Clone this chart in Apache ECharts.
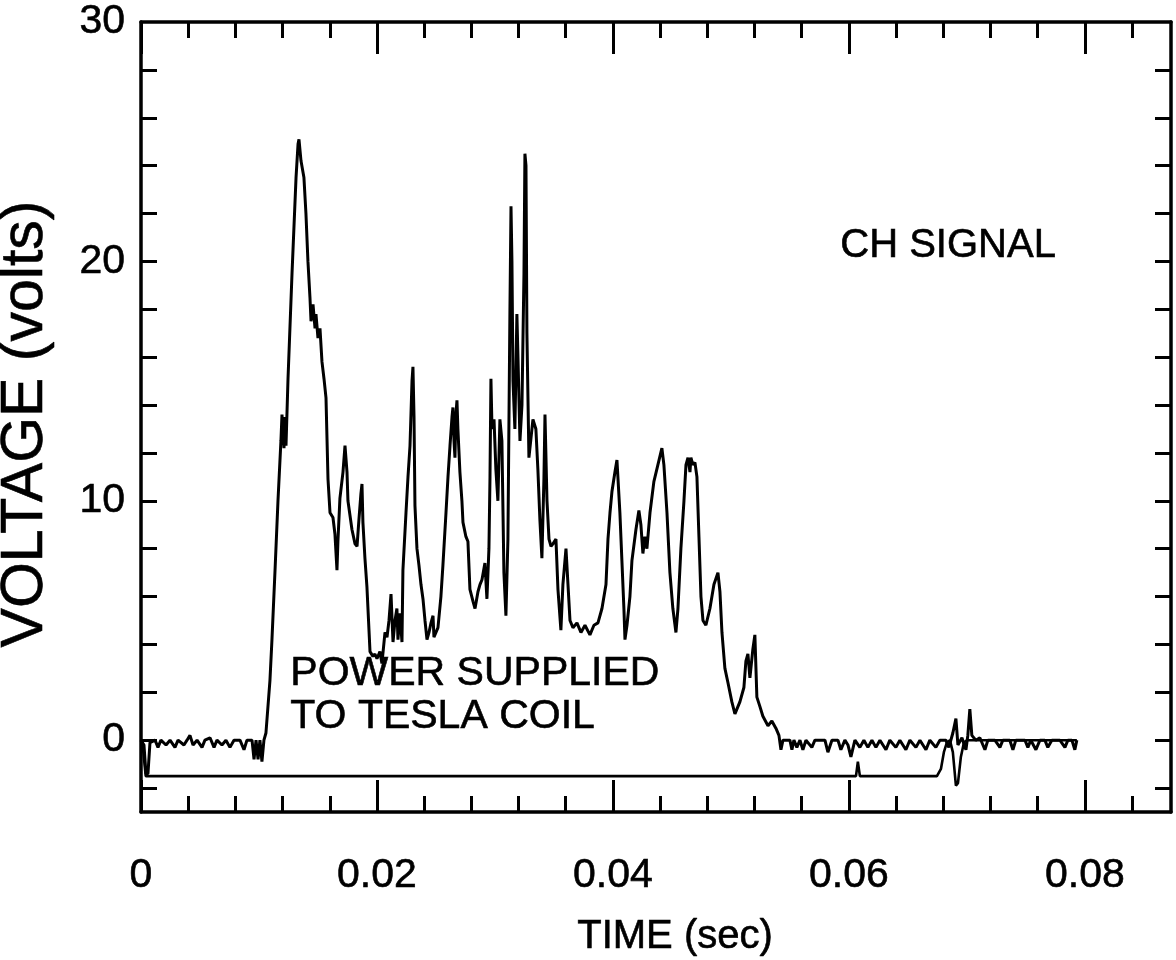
<!DOCTYPE html>
<html>
<head>
<meta charset="utf-8">
<script src="https://cdn.jsdelivr.net/npm/echarts@6/dist/echarts.min.js"></script>
<style>
html,body{margin:0;padding:0;background:#fff;}
#chart{width:1176px;height:960px;}
</style>
</head>
<body>
<div id="chart"></div>
<script>
// ---- DATA (time in milliseconds, voltage in volts) ----
const chTimeMs = [
0,0.25,0.42,0.59,0.76,1.19,1.44,1.69,2.12,2.46,2.88,3.14,3.64,3.90,4.15,4.41,4.75,5.17,5.42,5.85,6.19,6.44,6.86,7.20,7.54,7.88,8.39,8.73,8.98,9.41,9.58,9.75,9.92,10.08,10.25,10.42,
10.59,10.93,11.10,11.36,11.61,11.86,11.95,12.12,12.20,12.29,12.46,12.80,13.14,13.31,13.39,13.56,13.81,13.98,14.15,14.32,14.41,14.58,14.75,14.83,15.00,15.17,15.34,15.51,15.68,15.85,16.02,16.27,16.44,16.61,16.69,16.86,17.12,17.29,17.46,17.54,17.88,18.14,18.31,18.47,18.64,18.73,18.81,18.98,19.15,19.41,19.66,19.83,20.00,20.25,20.42,20.68,20.85,21.02,21.19,21.36,21.53,21.69,21.78,21.95,22.12,22.20,22.46,22.63,22.80,22.97,23.05,23.14,23.22,23.39,23.56,23.73,23.90,24.07,24.24,24.41,24.58,24.75,24.83,25.00,25.17,25.42,25.59,25.85,26.02,26.19,26.36,26.44,26.53,26.61,26.69,26.78,26.86,27.03,27.20,27.29,27.54,27.71,27.88,28.14,28.31,28.56,28.73,28.90,29.15,29.32,
29.49,29.58,29.66,29.75,29.92,30.08,30.25,30.42,30.59,30.76,30.93,31.10,31.27,31.36,31.44,31.53,31.69,31.86,31.95,32.12,32.29,32.46,32.54,32.63,32.71,32.88,33.05,33.22,33.47,33.64,33.81,33.98,34.15,34.24,34.41,34.58,34.75,34.92,35.17,35.34,35.59,35.76,36.02,36.19,36.36,36.61,36.95,37.29,37.63,38.05,38.39,38.73,39.07,39.41,
39.58,39.75,39.92,40.17,40.34,40.42,40.59,40.76,40.93,41.02,41.19,41.44,41.61,41.95,42.20,42.37,42.54,42.71,42.88,43.14,43.47,43.81,44.15,44.32,44.58,44.83,45.08,45.34,45.51,45.76,46.02,46.19,46.36,46.53,46.61,46.78,46.95,47.12,47.29,47.46,47.63,47.88,48.22,48.56,48.90,49.07,49.24,49.49,49.75,50.08,50.34,50.76,51.10,51.27,51.44,51.61,51.86,52.03,52.20,52.46,52.71,53.14,53.47,53.81,54.07,54.24,54.41,
55.00,55.17,55.34,55.59,55.85,56.10,56.36,56.86,57.12,57.97,58.22,58.56,59.07,59.32,59.66,59.92,60.17,60.51,60.93,61.27,61.61,61.95,62.29,62.63,63.14,63.47,63.98,64.32,64.83,65.17,65.68,66.02,66.53,66.86,67.37,67.71,68.22,68.47,68.81,69.07,69.24,69.58,69.92,70.08,70.25,70.42,70.76,71.10,71.53,71.78,72.37,72.80,73.05,73.64,73.90,74.15,74.92,75.17,75.42,75.85,76.19,76.61,76.86,77.20,77.88,78.31,78.56,78.90,79.15,79.32
];
const chVolt = [
0,-0.2,-1.4,-1.4,-0.1,0,-0.3,0,-0.2,0,-0.3,0,-0.2,0,0.2,-0.2,0,-0.3,0,0.1,-0.3,0,-0.2,0,-0.3,0,0,-0.4,0,0,-0.8,0,-0.8,0,-0.9,0,
0.3,2.5,4.2,7.1,10,12.5,13.6,12.2,13.5,12.3,15.1,19.5,23.5,24.9,25.1,24.2,23.5,22,20,18.5,17.5,18.2,17.2,17.8,16.8,17.2,15.8,15.1,14.3,10.9,9.5,9.3,8.6,7.1,8.3,10.1,11.2,12.3,11.2,10.0,8.8,8.2,8.1,9.2,10.3,10.7,9.1,7.6,6.4,3.7,3.5,3.6,3.4,3.7,3.2,4.5,4.3,5.0,6.1,4.1,5.0,5.5,4.2,5.3,4.1,7.1,9.5,11.0,12.3,15.0,15.6,13.5,9.8,8.0,7.3,6.5,5.9,5.0,4.2,4.5,4.9,5.2,4.3,4.5,4.7,6.0,7.3,9.5,11.0,12.3,13.5,13.9,12.5,11.8,13.6,14.2,13.0,11.2,10.0,9.1,8.5,8.3,6.3,5.8,5.5,6.2,6.5,6.7,7.4,5.9,
8.0,11.0,15.1,13.0,13.4,11.3,10.0,13.4,12.5,7.0,5.2,8.4,18.0,22.3,20.0,15.0,13.0,17.8,16.0,12.5,14.0,19.5,24.5,24.0,17.0,11.8,12.6,13.4,13.0,11.3,9.2,7.6,10.9,13.6,10.0,8.4,8.1,8.2,8.4,6.3,4.6,6.5,8.0,6.5,5.0,4.7,4.9,4.5,4.8,4.4,4.8,4.9,5.5,6.5,
8.4,9.5,10.4,11.2,11.7,11.0,9.5,7.5,5.5,4.2,4.8,6.0,7.5,8.8,9.6,9.0,7.8,8.5,8.0,9.5,10.8,11.5,12.2,11.5,9.5,7.0,5.5,4.5,5.5,8.0,10.0,11.5,11.8,11.2,11.8,11.5,11.6,11.0,8.5,6.0,5.0,4.8,5.5,6.5,7.0,6.2,4.5,3.0,2.4,1.6,1.1,1.6,2.2,3.3,3.6,2.6,3.8,4.4,1.8,1.4,1.0,0.6,0.8,0.5,0.2,-0.4,0,
0,-0.4,0,-0.3,0,-0.4,0,-0.3,0,0,-0.5,0,0,-0.4,0,-0.2,-0.7,0,-0.3,0,-0.3,0,-0.3,0,-0.4,0,-0.3,0,-0.4,0,-0.3,0,-0.4,0,-0.3,0,0,-0.3,0.3,0.9,-0.2,0.1,-0.4,0.2,1.3,0.2,0,0.1,-0.4,0,0,-0.3,0,0,-0.4,0,0,-0.3,0,-0.4,0,0,-0.3,0,0,-0.3,0,0,-0.4,0
];
const powerTimeMs = [0,0.2,0.4,60.6,60.76,60.93,67.46,67.8,68.05,68.3,68.56,68.81,69.07,69.24,69.49,69.75,70.0,79.32];
const powerVolt   = [0,-0.5,-1.5,-1.5,-0.9,-1.5,-1.5,-1.2,-0.5,-0.1,0,-0.5,-1.9,-1.8,-0.7,-0.1,0,0];

const xLabelValues = [0, 0.02, 0.04, 0.06, 0.08];
const xMinorTicks = [0,0.004,0.008,0.012,0.016,0.02,0.024,0.028,0.032,0.036,0.04,0.044,0.048,0.052,0.056,0.06,0.064,0.068,0.072,0.076,0.08,0.084];
const yLabelValues = [0, 10, 20, 30];
const yTicks = [-2,0,2,4,6,8,10,12,14,16,18,20,22,24,26,28];

const xTitle = 'TIME (sec)';
const yTitle = 'VOLTAGE (volts)';
const chLabel = 'CH SIGNAL';
const powerLabel = 'POWER SUPPLIED\nTO TESLA COIL';

// ---- CHART ----
const FONT = '"Liberation Sans", Arial, Helvetica, sans-serif';
const chData = chTimeMs.map((t, i) => [t / 1000, chVolt[i]]);
const powerData = powerTimeMs.map((t, i) => [t / 1000, powerVolt[i]]);

const XMIN = 0, XMAX = 0.0873, YMIN = -3, YMAX = 30;
const lineC = '#000';
const thick = { textBorderColor: '#000', textBorderWidth: 0.6 };

function xAx(pos, ticks, len, showLine, labels, extra) {
  return Object.assign({
    type: 'value', position: pos, min: XMIN, max: XMAX,
    splitLine: { show: false },
    axisLine: { show: showLine, onZero: false, lineStyle: { color: lineC, width: 3.5 } },
    axisTick: { show: true, inside: true, length: len, customValues: ticks, lineStyle: { color: lineC, width: 3 } },
    axisLabel: labels ? Object.assign({
      show: true, customValues: labels, color: '#000', fontSize: 41, fontFamily: FONT, margin: 43,
      formatter: v => (v === 0 ? '0' : String(+v.toFixed(3)))
    }, thick) : { show: false }
  }, extra || {});
}
function yAx(pos, labels, extra) {
  return Object.assign({
    type: 'value', position: pos, min: YMIN, max: YMAX,
    splitLine: { show: false },
    axisLine: { show: true, onZero: false, lineStyle: { color: lineC, width: 3.5 } },
    axisTick: { show: true, inside: true, length: 16, customValues: yTicks, lineStyle: { color: lineC, width: 3 } },
    axisLabel: labels ? Object.assign({
      show: true, customValues: labels, color: '#000', fontSize: 41, fontFamily: FONT, margin: 16
    }, thick) : { show: false }
  }, extra || {});
}

const chart = echarts.init(document.getElementById('chart'), null, { renderer: 'canvas' });
chart.setOption({
  animation: false,
  backgroundColor: '#fff',
  grid: { left: 141, right: 5, top: 22, bottom: 148, containLabel: false, outerBoundsMode: 'none' },
  xAxis: [
    xAx('bottom', xMinorTicks, 16, true, xLabelValues, {
      name: xTitle, nameLocation: 'middle', nameGap: 105,
      nameTextStyle: Object.assign({ color: '#000', fontSize: 40, fontFamily: FONT, padding: [0, 0, 0, 38] }, thick)
    }),
    xAx('bottom', xLabelValues, 32, false, null),
    xAx('top', xMinorTicks, 16, true, null),
    xAx('top', xLabelValues, 32, false, null)
  ],
  yAxis: [
    yAx('left', yLabelValues, {
      name: yTitle, nameLocation: 'middle', nameGap: 86, nameRotate: 90,
      nameTextStyle: Object.assign({ color: '#000', fontSize: 59, fontFamily: FONT, padding: [0, 14, 0, 0] }, thick)
    }),
    yAx('right', null)
  ],
  series: [
    { type: 'line', name: 'CH', data: chData, xAxisIndex: 0, yAxisIndex: 0,
      showSymbol: false, symbol: 'none', lineStyle: { color: lineC, width: 3 }, z: 3 },
    { type: 'line', name: 'Power', data: powerData, xAxisIndex: 0, yAxisIndex: 0,
      showSymbol: false, symbol: 'none', lineStyle: { color: lineC, width: 2.6 }, z: 3 }
  ],
  graphic: [
    { type: 'text', left: 840, top: 226, style: { text: chLabel, fill: '#000', font: '40px ' + FONT, stroke: '#000', lineWidth: 0.6 } },
    { type: 'text', left: 290, top: 652, style: { text: powerLabel, fill: '#000', font: '41px ' + FONT, lineHeight: 43, stroke: '#000', lineWidth: 0.6 } }
  ]
});
</script>
</body>
</html>
